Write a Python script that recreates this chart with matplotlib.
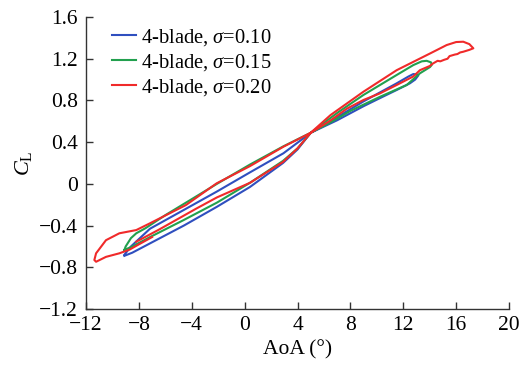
import matplotlib
matplotlib.use("Agg")
import matplotlib.pyplot as plt

plt.rcParams['font.family'] = ['Liberation Serif', 'DejaVu Serif']
plt.rcParams['mathtext.fontset'] = 'custom'
plt.rcParams['mathtext.rm'] = 'Liberation Serif'
plt.rcParams['mathtext.it'] = 'Liberation Serif:italic'

# sigma = 0.10 (blue)
aoa_010 = [-9.1, -8.6, -7.16, -4.6, -2.12, 0.4, 2.93, 5.0, 7.0, 8.98, 11.5, 12.4, 12.76, 13.0, 13.14,
           12.9, 12.5, 11.5, 10.2, 9.0, 7.0, 5.0, 4.0, 2.9, 0.4, -2.1, -4.6, -7.0, -8.5, -9.1]
cl_010 = [-0.68, -0.60, -0.43, -0.25, -0.075, 0.11, 0.293, 0.49, 0.64, 0.79, 0.964, 1.03, 1.053, 1.05, 1.04,
          1.00, 0.964, 0.90, 0.82, 0.745, 0.61, 0.49, 0.33, 0.20, -0.03, -0.22, -0.40, -0.56, -0.66, -0.69]

# sigma = 0.15 (green)
aoa_015 = [-9.1, -9.0, -8.6, -8.2, -7.5, -6.0, -2.1, 0.4, 2.93, 5.0, 7.0, 8.98, 11.5, 12.76, 13.4,
           13.77, 14.1, 14.15, 14.02, 13.26, 12.26, 10.24, 8.0, 6.5, 5.0, 4.0, 2.9, 0.4, -2.1, -4.66, -7.0, -8.5, -9.1]
cl_015 = [-0.634, -0.60, -0.52, -0.474, -0.425, -0.30, 0.0, 0.185, 0.36, 0.49, 0.68, 0.852, 1.044, 1.139, 1.175,
          1.18, 1.165, 1.14, 1.12, 1.06, 0.948, 0.835, 0.70, 0.59, 0.49, 0.34, 0.22, 0.01, -0.18, -0.35, -0.50, -0.60, -0.634]

# sigma = 0.20 (red)
aoa_020 = [-8.2, -6.5, -3.7, -2.1, 0.4, 2.9, 4.0, 5.0, 6.46, 7.72, 8.98, 10.24, 11.5, 12.76, 13.26,
           14.0, 14.27, 14.6, 14.8, 15.1, 15.35, 15.5, 15.9, 16.1, 16.3, 16.54, 17.0, 17.3, 17.0, 16.54,
           16.0, 15.28, 14.02, 11.5, 8.98, 6.5, 5.0, 2.93, 0.4, -2.12, -4.44, -7.16, -8.2, -9.48, -10.49,
           -11.24, -11.37, -11.24, -10.49, -9.48, -8.7, -8.0, -7.0]
cl_020 = [-0.555, -0.44, -0.24, -0.13, 0.01, 0.21, 0.34, 0.49, 0.605, 0.72, 0.804, 0.868, 0.948, 1.03, 1.09,
          1.13, 1.156, 1.18, 1.175, 1.19, 1.20, 1.225, 1.24, 1.245, 1.26, 1.267, 1.285, 1.30, 1.34, 1.363,
          1.36, 1.331, 1.25, 1.09, 0.883, 0.66, 0.49, 0.356, 0.17, 0.005, -0.203, -0.378, -0.443, -0.474, -0.54,
          -0.666, -0.73, -0.747, -0.70, -0.666, -0.63, -0.58, -0.51]

labels = [r'4-blade, $\it{\sigma}$=0.10', r'4-blade, $\it{\sigma}$=0.15', r'4-blade, $\it{\sigma}$=0.20']
colors = ['#2f4fbf', '#22a04e', '#f02a2a']

xticks = [-12, -8, -4, 0, 4, 8, 12, 16, 20]
xtick_labels = ['\u221212', '\u22128', '\u22124', '0', '4', '8', '12', '16', '20']
yticks = [-1.2, -0.8, -0.4, 0, 0.4, 0.8, 1.2, 1.6]
ytick_labels = ['\u22121.2', '\u22120.8', '\u22120.4', '0', '0.4', '0.8', '1.2', '1.6']

fig = plt.figure(figsize=(5.32, 3.65), dpi=100)
ax = fig.add_axes([0.1617, 0.1534, 0.7951, 0.8])

for x, y, lab, c in zip([aoa_010, aoa_015, aoa_020], [cl_010, cl_015, cl_020], labels, colors):
    ax.plot(x, y, color=c, lw=1.5, label=lab)

ax.set_xlim(-12, 20)
ax.set_ylim(-1.2, 1.6)
ax.set_xticks(xticks)
ax.set_xticklabels(xtick_labels)
ax.set_yticks(yticks)
ax.set_yticklabels(ytick_labels)
ax.spines['top'].set_visible(False)
ax.spines['right'].set_visible(False)
for s in ['left', 'bottom']:
    ax.spines[s].set_linewidth(1.0)
    ax.spines[s].set_color('#333333')
ax.tick_params(direction='in', length=5, width=1.0, labelsize=15.5, color='#333333')
ax.tick_params(axis='y', pad=6)
ax.tick_params(axis='x', pad=5)

ax.set_xlabel('AoA (°)', fontsize=15.5, labelpad=4)
ax.set_ylabel(r'$\it{C}_{\rm L}$', fontsize=16, labelpad=3)

leg = ax.legend(loc='upper left', bbox_to_anchor=((112 - 86) / 423, 1 - (27 - 17) / 292),
                frameon=False, fontsize=14.8, handlelength=1.15, handletextpad=0.25,
                labelspacing=0.2, borderaxespad=0.0, borderpad=0.0)

fig.savefig('out.png', dpi=100)
